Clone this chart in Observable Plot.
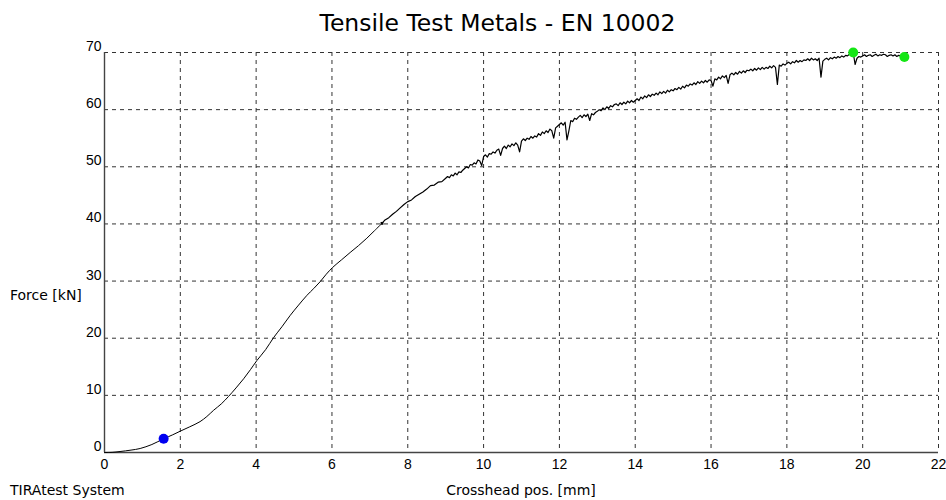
<!DOCTYPE html>
<html>
<head>
<meta charset="utf-8">
<script src="https://cdn.jsdelivr.net/npm/d3@7"></script>
<script src="https://cdn.jsdelivr.net/npm/@observablehq/plot@0.6"></script>
<style>
  html, body { margin: 0; padding: 0; background: #fff; }
  #chart { position: relative; width: 946px; height: 500px; overflow: hidden; }
  #chart svg { position: absolute; left: 0; top: 0; }
  .lbl { position: absolute; font-family: "DejaVu Sans", sans-serif; color: #000; white-space: nowrap; line-height: 1; }
  #title { font-size: 23.5px; left: 0; width: 995px; text-align: center; top: 12px; }
  #ylab { font-size: 14px; left: 10px; top: 288px; }
  #system { font-size: 14px; left: 10px; top: 483px; }
  #xlab { font-size: 14px; left: 0; width: 1042px; text-align: center; top: 483px; }
</style>
</head>
<body>
<div id="chart">
  <div class="lbl" id="title">Tensile Test Metals - EN 10002</div>
  <div class="lbl" id="ylab">Force [kN]</div>
  <div class="lbl" id="system">TIRAtest System</div>
  <div class="lbl" id="xlab">Crosshead pos. [mm]</div>
</div>
<script>
// Axis ticks
const xTicks = [0, 2, 4, 6, 8, 10, 12, 14, 16, 18, 20, 22];
const yTicks = [0, 10, 20, 30, 40, 50, 60, 70];

// Elastic / early plastic range: crosshead position [mm] and force [kN]
const elasticPos = [
  0, 0.2, 0.41, 0.7, 0.94, 1.25, 1.56, 1.8, 2.02, 2.25, 2.52, 2.7, 2.88, 3.08, 3.27, 3.47, 3.67, 3.85,
  4.02, 4.25, 4.46, 4.68, 4.9, 5.12, 5.34, 5.52, 5.69, 5.85, 6.02, 6.25, 6.48, 6.7, 6.92, 7.12, 7.32
];
const elasticForce = [
  0, 0.03, 0.17, 0.42, 0.7, 1.4, 2.4, 3.1, 3.8, 4.5, 5.4, 6.3, 7.4, 8.5, 9.8, 11.3, 12.9, 14.5,
  16.1, 18.0, 20.1, 22.0, 24.0, 25.8, 27.5, 28.7, 29.9, 31.2, 32.4, 33.7, 35.0, 36.2, 37.5, 38.8, 40.1
];

// Hardening range with the serrated force signal
const plasticPos = [
  7.32, 7.4, 7.5, 7.6, 7.7, 7.8, 7.9, 8.0, 8.1, 8.2, 8.3, 8.4, 8.5, 8.6, 8.7, 8.8, 8.9,
  9.0, 9.05, 9.1, 9.15, 9.2, 9.25, 9.3, 9.35, 9.4, 9.45,
  9.5, 9.55, 9.6, 9.65, 9.7, 9.75, 9.8, 9.85, 9.9, 9.95,
  10.0, 10.05, 10.1, 10.15, 10.2, 10.25, 10.3, 10.35, 10.4, 10.45,
  10.5, 10.55, 10.6, 10.65, 10.7, 10.75, 10.8, 10.85, 10.9, 10.95,
  11.0, 11.05, 11.1, 11.15, 11.2, 11.25, 11.3, 11.35, 11.4, 11.45,
  11.5, 11.55, 11.6, 11.65, 11.7, 11.75, 11.8, 11.85, 11.9, 11.95,
  12.0, 12.05, 12.1, 12.15, 12.2, 12.25, 12.3, 12.35, 12.4, 12.45,
  12.5, 12.55, 12.6, 12.65, 12.7, 12.75, 12.8, 12.85, 12.9, 12.95,
  13.0, 13.05, 13.1, 13.15, 13.2, 13.25, 13.3, 13.35, 13.4, 13.45,
  13.5, 13.55, 13.6, 13.65, 13.7, 13.75, 13.8, 13.85, 13.9, 13.95,
  14.0, 14.05, 14.1, 14.15, 14.2, 14.25, 14.3, 14.35, 14.4, 14.45,
  14.5, 14.55, 14.6, 14.65, 14.7, 14.75, 14.8, 14.85, 14.9, 14.95,
  15.0, 15.05, 15.1, 15.15, 15.2, 15.25, 15.3, 15.35, 15.4, 15.45,
  15.5, 15.55, 15.6, 15.65, 15.7, 15.75, 15.8, 15.85, 15.9, 15.95,
  16.0, 16.05, 16.1, 16.15, 16.2, 16.25, 16.3, 16.35, 16.4, 16.45,
  16.5, 16.55, 16.6, 16.65, 16.7, 16.75, 16.8, 16.85, 16.9, 16.95,
  17.0, 17.05, 17.1, 17.15, 17.2, 17.25, 17.3, 17.35, 17.4, 17.45,
  17.5, 17.55, 17.6, 17.65, 17.7, 17.75, 17.8, 17.85, 17.9, 17.95,
  18.0, 18.05, 18.1, 18.15, 18.2, 18.25, 18.3, 18.35, 18.4, 18.45,
  18.5, 18.55, 18.6, 18.65, 18.7, 18.75, 18.8, 18.85, 18.9, 18.95,
  19.0, 19.05, 19.1, 19.15, 19.2, 19.25, 19.3, 19.35, 19.4, 19.45,
  19.5, 19.55, 19.6, 19.65, 19.7, 19.75, 19.8, 19.85, 19.9, 19.95,
  20.0, 20.05, 20.1, 20.15, 20.2, 20.25, 20.3, 20.35, 20.4, 20.45,
  20.5, 20.55, 20.6, 20.65, 20.7, 20.75, 20.8, 20.85, 20.9, 20.95,
  21.0, 21.05, 21.1
];
const plasticForce = [
  40.1, 40.7, 41.1, 41.7, 42.2, 42.8, 43.4, 43.9, 44.2, 44.8, 45.2, 45.6, 46.1, 46.7, 46.8, 47.3, 47.4,
  48.0, 48.3, 48.1, 48.6, 48.4, 48.9, 48.6, 49.1, 49.0, 49.4,
  49.7, 50.0, 49.8, 50.4, 50.3, 50.7, 50.5, 51.2, 51.0, 50.2,
  51.8, 52.1, 51.7, 52.3, 52.2, 52.6, 52.4, 52.9, 53.1, 52.0,
  53.2, 53.6, 53.2, 53.8, 53.5, 54.0, 53.7, 54.2, 53.8, 52.6,
  54.5, 54.9, 54.6, 55.0, 54.8, 55.3, 55.0, 55.4, 55.2, 55.8,
  55.5, 56.1, 55.8, 56.3, 56.0, 56.6, 56.3, 55.0, 56.8, 57.1,
  57.4, 57.7, 57.3, 57.8, 54.7, 56.3, 58.1, 57.9, 58.5, 58.3,
  58.7, 59.0, 58.6, 59.1, 58.8, 59.2, 58.1, 59.3, 59.1, 59.5,
  59.7, 60.0, 59.8, 60.3, 60.0, 60.5, 60.2, 60.7, 60.5, 60.9,
  61.0, 60.7, 61.2, 60.9, 61.3, 61.0, 61.5, 61.2, 61.6, 61.3,
  61.6, 61.9, 61.6, 62.2, 61.9, 62.4, 62.1, 62.6, 62.3, 62.7,
  62.5, 62.9, 62.6, 63.1, 62.8, 63.2, 62.9, 63.4, 63.1, 63.5,
  63.3, 63.7, 63.5, 63.9, 63.6, 64.1, 63.8, 64.3, 64.1, 64.5,
  64.3, 64.7, 64.4, 64.9, 64.6, 65.0, 64.7, 65.1, 64.8, 65.2,
  65.1, 64.1, 65.4, 65.2, 65.7, 65.4, 65.9, 65.6, 66.0, 64.6,
  66.1, 66.4, 66.1, 66.5, 66.2, 66.7, 66.4, 66.8, 66.5, 66.9,
  66.8, 67.1, 66.8, 67.2, 66.9, 67.3, 67.0, 67.4, 67.1, 67.4,
  67.2, 67.6, 67.3, 67.7, 67.4, 64.4, 67.8, 67.6, 68.0, 67.8,
  68.1, 68.3, 68.0, 68.4, 68.2, 68.6, 68.3, 68.6, 68.4, 68.7,
  68.6, 68.9, 68.6, 69.0, 68.7, 68.9, 68.6, 69.0, 65.7, 68.5,
  68.8, 69.0, 68.7, 69.1, 68.9, 69.2, 69.0, 69.3, 69.1, 69.4,
  69.2, 69.5, 69.4, 69.7, 69.6, 70.0, 67.9, 69.0, 69.3, 69.2,
  69.4, 69.6, 69.3, 69.5, 69.6, 69.3, 69.5, 69.7, 69.4, 69.6,
  69.5, 69.7, 69.6, 69.3, 69.5, 69.6, 69.4, 69.6, 69.3, 69.5,
  69.4, 69.5, 69.2
];

// Evaluation markers
const startPos = [1.56];
const startForce = [2.4];
const markPos = [7.32];
const markForce = [40.1];
const peakPos = [19.75, 21.1];
const peakForce = [70.0, 69.2];

const toRows = (xs, ys) => xs.map((p, i) => ({pos: p, force: ys[i]}));
const elastic = toRows(elasticPos, elasticForce);
const plastic = toRows(plasticPos, plasticForce);
const start = toRows(startPos, startForce);
const mark = toRows(markPos, markForce);
const peaks = toRows(peakPos, peakForce);

const gridStyle = {stroke: "#333", strokeOpacity: 1, strokeWidth: 1, strokeDasharray: "4,4"};

const chart = Plot.plot({
  width: 946,
  height: 500,
  marginLeft: 104,
  marginRight: 8,
  marginTop: 52,
  marginBottom: 48,
  style: {background: "transparent", fontFamily: "'Liberation Sans', sans-serif", fontSize: "14px", color: "#000"},
  x: {domain: [0, 22]},
  y: {domain: [0, 70]},
  marks: [
    Plot.gridX(xTicks.filter(d => d > 0), gridStyle),
    Plot.gridY(yTicks.filter(d => d > 0), gridStyle),
    Plot.ruleX([0], {stroke: "#444", strokeWidth: 1.4}),
    Plot.ruleY([0], {stroke: "#444", strokeWidth: 1.4}),
    Plot.axisX({ticks: xTicks, tickSize: 0, tickPadding: 7, label: null, fill: "#000"}),
    Plot.axisY({ticks: yTicks, tickSize: 0, tickPadding: 3, dy: -6, label: null, fill: "#000"}),
    Plot.line(elastic, {x: "pos", y: "force", stroke: "#000", strokeWidth: 1, curve: "catmull-rom"}),
    Plot.line(plastic, {x: "pos", y: "force", stroke: "#000", strokeWidth: 1.2}),
    Plot.dot(mark, {x: "pos", y: "force", symbol: "square", r: 1.6, fill: "#000"}),
    Plot.dot(start, {x: "pos", y: "force", r: 5, fill: "#0000f0"}),
    Plot.dot(peaks, {x: "pos", y: "force", r: 5, fill: "#14e614"})
  ]
});
document.getElementById("chart").prepend(chart);
</script>
</body>
</html>
